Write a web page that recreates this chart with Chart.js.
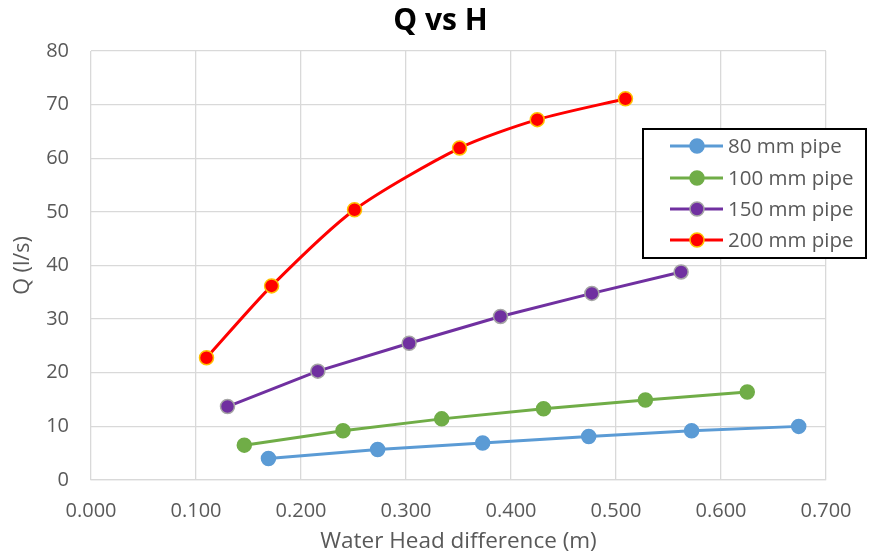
<!DOCTYPE html>
<html><head><meta charset="utf-8">
<script src="https://cdn.jsdelivr.net/npm/chart.js@4.4.1/dist/chart.umd.min.js"></script>
<style>html,body{margin:0;padding:0;background:#fff;}#wrap{width:881px;height:555px;position:relative;}</style>
</head><body><div id="wrap"><canvas id="c" width="881" height="555"></canvas></div>
<script>
const seriesNames = ["80 mm pipe","100 mm pipe","150 mm pipe","200 mm pipe"];
const h80  = [0.169,0.273,0.373,0.474,0.572,0.674];
const q80  = [4.0,5.7,6.9,8.1,9.2,10.0];
const h100 = [0.146,0.240,0.334,0.431,0.528,0.625];
const q100 = [6.5,9.2,11.4,13.3,14.9,16.4];
const h150 = [0.130,0.216,0.303,0.390,0.477,0.562];
const q150 = [13.7,20.3,25.5,30.5,34.8,38.8];
const h200 = [0.110,0.172,0.251,0.351,0.425,0.509];
const q200 = [22.8,36.2,50.4,61.9,67.2,71.1];
const xTicks = [0,0.1,0.2,0.3,0.4,0.5,0.6,0.7];
const yTicks = [0,10,20,30,40,50,60,70,80];

const FONT = "'Open Sans', sans-serif";
const TXT = "#595959";
function pts(xs, ys){ return xs.map((x,i)=>({x:x,y:ys[i]})); }
const styles = [
  {c:"#5B9BD5", b:"#5B9BD5", t:0},
  {c:"#70AD47", b:"#70AD47", t:0},
  {c:"#7030A0", b:"#A5A5A5", t:0},
  {c:"#FF0000", b:"#FFC000", t:0.25}
];
const data = [[h80,q80],[h100,q100],[h150,q150],[h200,q200]];
const datasets = data.map((d,i)=>({
  label: seriesNames[i],
  data: pts(d[0], d[1]),
  borderColor: styles[i].c,
  backgroundColor: styles[i].c,
  pointBackgroundColor: styles[i].c,
  pointBorderColor: styles[i].b,
  pointBorderWidth: 1.5,
  pointRadius: 7,
  borderWidth: 3,
  tension: styles[i].t,
  showLine: true
}));

const legendPlugin = {
  id: 'boxLegend',
  afterDraw(chart){
    const ctx = chart.ctx;
    const x0 = 643, y0 = 129, w = 223, h = 129;
    ctx.save();
    ctx.fillStyle = "#fff";
    ctx.fillRect(x0,y0,w,h);
    ctx.strokeStyle = "#000";
    ctx.lineWidth = 2;
    ctx.strokeRect(x0,y0,w,h);
    const rows = [146,178,209,240];
    chart.data.datasets.forEach((ds,i)=>{
      const y = rows[i];
      ctx.strokeStyle = ds.borderColor;
      ctx.lineWidth = 3;
      ctx.beginPath(); ctx.moveTo(670,y); ctx.lineTo(723,y); ctx.stroke();
      ctx.beginPath(); ctx.arc(697,y,7,0,Math.PI*2);
      ctx.fillStyle = ds.pointBackgroundColor; ctx.fill();
      ctx.lineWidth = 1.5; ctx.strokeStyle = ds.pointBorderColor; ctx.stroke();
      ctx.fillStyle = TXT;
      ctx.font = "20.5px " + FONT;
      ctx.textBaseline = "middle";
      ctx.textAlign = "left";
      ctx.fillText(ds.label, 728, y+1);
    });
    ctx.restore();
  }
};

new Chart(document.getElementById('c'), {
  type: 'scatter',
  data: { datasets },
  plugins: [legendPlugin],
  options: {
    responsive: false,
    animation: false,
    events: [],
    layout: { padding: 0, autoPadding: false },
    plugins: {
      legend: { display: false },
      tooltip: { enabled: false },
      title: { display: true, text: "Q vs H", color: "#000",
        font: { family: FONT, size: 30, weight: 'bold' }, padding: { top: 3, bottom: 12 } }
    },
    scales: {
      x: {
        type: 'linear', min: 0, max: 0.7,
        afterBuildTicks(axis){ axis.ticks = xTicks.map(v=>({value:v})); },
        afterFit(axis){ axis.height = 75; },
        grid: { color: "#D9D9D9", lineWidth: 1.3, drawTicks: false },
        border: { color: "#D9D9D9", width: 1.3 },
        ticks: { color: TXT, font: { family: FONT, size: 20 }, padding: 19,
          callback: v => Number(v).toFixed(3) },
        title: { display: true, text: "Water Head difference (m)", color: TXT,
          font: { family: FONT, size: 22.5 }, padding: { top: 0, bottom: 0 } }
      },
      y: {
        type: 'linear', min: 0, max: 80,
        afterBuildTicks(axis){ axis.ticks = yTicks.map(v=>({value:v})); },
        afterFit(axis){ axis.width = 91; },
        grid: { color: "#D9D9D9", lineWidth: 1.3, drawTicks: false },
        border: { display: false },
        ticks: { color: TXT, font: { family: FONT, size: 20 }, padding: 22 },
        title: { display: true, text: "Q (l/s)", color: TXT,
          font: { family: FONT, size: 21.5 }, padding: { bottom: 0, top: 10 } }
      },
      yRightSpace: {
        type: 'linear', position: 'right', min: 0, max: 80,
        afterFit(axis){ axis.width = 55; },
        grid: { display: false },
        border: { display: false },
        ticks: { display: false }
      }
    }
  }
});
</script></body></html>
